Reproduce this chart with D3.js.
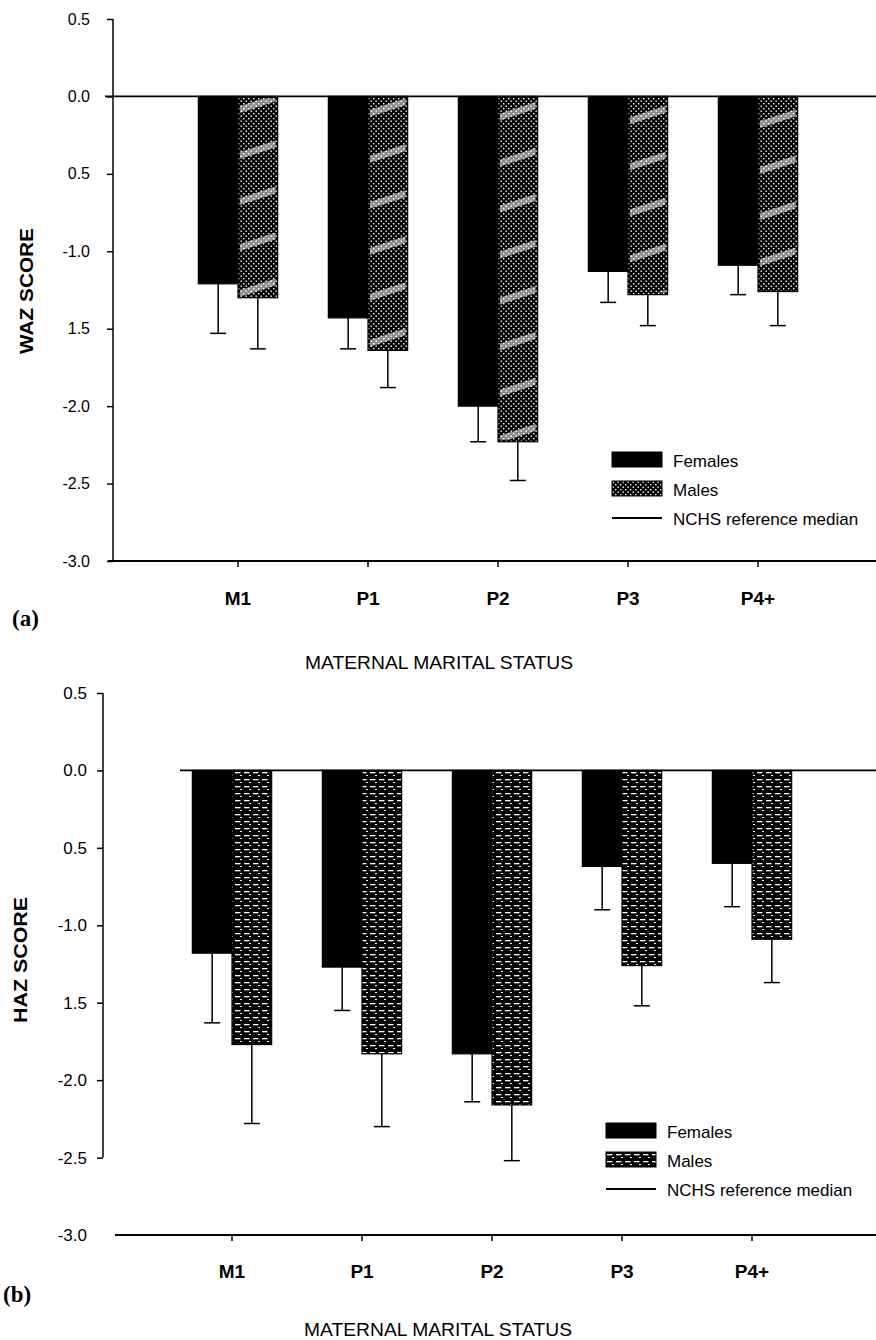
<!DOCTYPE html>
<html>
<head>
<meta charset="utf-8">
<script src="https://cdn.jsdelivr.net/npm/d3@7"></script>
<style>
  body { margin: 0; background: #fff; }
  svg { display: block; }
</style>
</head>
<body>
<script>
// size of the page
var width = 876;
var height = 1340;

// categories and tick labels
const categories = ["M1", "P1", "P2", "P3", "P4+"];
const sexes = ["Females", "Males"];
const legendLabels = ["Females", "Males", "NCHS reference median"];
const yTicks = [0.5, 0, -0.5, -1, -1.5, -2, -2.5, -3];
const yTickLabels = ["0.5", "0.0", "0.5", "-1.0", "1.5", "-2.0", "-2.5", "-3.0"];

// (a) weight-for-age z scores, mean and lower end of the error bar
const wazFemales    = [-1.21, -1.43, -2.00, -1.13, -1.09];
const wazFemalesLow = [-1.53, -1.63, -2.23, -1.33, -1.28];
const wazMales      = [-1.30, -1.64, -2.23, -1.28, -1.26];
const wazMalesLow   = [-1.63, -1.88, -2.48, -1.48, -1.48];

// (b) height-for-age z scores
const hazFemales    = [-1.18, -1.27, -1.83, -0.62, -0.60];
const hazFemalesLow = [-1.63, -1.55, -2.14, -0.90, -0.88];
const hazMales      = [-1.77, -1.83, -2.16, -1.26, -1.09];
const hazMalesLow   = [-2.28, -2.30, -2.52, -1.52, -1.37];

const svg = d3.select("body")
              .append("svg")
              .attr("width", width)
              .attr("height", height);

svg.append("rect")
   .attr("width", width)
   .attr("height", height)
   .attr("fill", "#fff");

// hatch patterns for the male bars
const defs = svg.append("defs");

var pa = defs.append("pattern")
             .attr("id", "stippleA")
             .attr("patternUnits", "userSpaceOnUse")
             .attr("width", 5).attr("height", 5);
pa.append("rect").attr("width", 5).attr("height", 5).attr("fill", "#000");
pa.append("rect").attr("x", 0.5).attr("y", 0.5).attr("width", 1.4).attr("height", 1.4).attr("fill", "#fff");
pa.append("rect").attr("x", 3).attr("y", 3).attr("width", 1.4).attr("height", 1.4).attr("fill", "#fff");

// white diagonal streaks seen across the stippled bars
var pb = defs.append("pattern")
             .attr("id", "bandA")
             .attr("patternUnits", "userSpaceOnUse")
             .attr("width", 80).attr("height", 46)
             .attr("patternTransform", "skewY(-18)");
pb.append("rect").attr("y", 0).attr("width", 80).attr("height", 7).attr("fill", "#fff").attr("opacity", 0.55);

var pc = defs.append("pattern")
             .attr("id", "dashB")
             .attr("patternUnits", "userSpaceOnUse")
             .attr("width", 9).attr("height", 7);
pc.append("rect").attr("width", 9).attr("height", 7).attr("fill", "#000");
pc.append("rect").attr("x", 1).attr("y", 2).attr("width", 5.5).attr("height", 1.3).attr("fill", "#fff");
pc.append("rect").attr("x", 6).attr("y", 5).attr("width", 2).attr("height", 1).attr("fill", "#fff");

const panels = [
  {
    id: "a", title: "WAZ SCORE", tag: "(a)",
    female: wazFemales, femaleLow: wazFemalesLow,
    male: wazMales, maleLow: wazMalesLow,
    fill: "url(#stippleA)", band: "url(#bandA)",
    yRange: [19, 561], xRange: [173, 823],
    axisX: 113, axisEnd: -3, tickPad: 17, tickFont: 16,
    zeroStart: 105, baseStart: 108,
    titleX: 26, titleY: 291, tagX: 12, tagY: 626,
    catPad: 25, xTitleY: 669, xTitleX: 439,
    legendX: 612, legendY: 452
  },
  {
    id: "b", title: "HAZ SCORE", tag: "(b)",
    female: hazFemales, femaleLow: hazFemalesLow,
    male: hazMales, maleLow: hazMalesLow,
    fill: "url(#dashB)", band: null,
    yRange: [693, 1235], xRange: [167, 817],
    axisX: 103, axisEnd: -2.5, tickPad: 10, tickFont: 17,
    zeroStart: 180, baseStart: 115,
    titleX: 20, titleY: 960, tagX: 3, tagY: 1302,
    catPad: 24, xTitleY: 1336, xTitleX: 438,
    legendX: 606, legendY: 1123
  }
];

panels.forEach(drawPanel);

function drawPanel(p)
{
  const g = svg.append("g").attr("class", "panel-" + p.id);

  var y = d3.scaleLinear()
            .domain([0.5, -3])
            .range(p.yRange);

  var x = d3.scaleBand()
            .domain(categories)
            .range(p.xRange)
            .paddingInner(0.39)
            .paddingOuter(0.195);

  var xs = d3.scaleBand()
             .domain(sexes)
             .range([0, x.bandwidth()]);

  // one record per bar
  var bars = [];
  categories.forEach(function(c, i) {
    bars.push({ cat: c, sex: "Females", value: p.female[i], low: p.femaleLow[i] });
    bars.push({ cat: c, sex: "Males", value: p.male[i], low: p.maleLow[i] });
  });

  // NCHS reference median (zero line)
  g.append("line")
   .attr("x1", p.zeroStart).attr("x2", width)
   .attr("y1", y(0)).attr("y2", y(0))
   .attr("stroke", "#000").attr("stroke-width", 1.8);

  // error bars first so the bars sit on top of them
  var err = g.selectAll(".err")
             .data(bars)
             .enter()
             .append("g")
             .attr("class", "err")
             .attr("transform", function(d) { return "translate(" + (x(d.cat) + xs(d.sex) + xs.bandwidth() / 2) + ",0)"; });
  err.append("line")
     .attr("y1", function(d) { return y(d.value); })
     .attr("y2", function(d) { return y(d.low); })
     .attr("stroke", "#000").attr("stroke-width", 1.5);
  err.append("line")
     .attr("x1", -8).attr("x2", 8)
     .attr("y1", function(d) { return y(d.low); })
     .attr("y2", function(d) { return y(d.low); })
     .attr("stroke", "#000").attr("stroke-width", 1.5);

  // bars
  g.selectAll(".bar")
   .data(bars)
   .enter()
   .append("rect")
   .attr("class", "bar")
   .attr("x", function(d) { return x(d.cat) + xs(d.sex); })
   .attr("y", y(0))
   .attr("width", xs.bandwidth())
   .attr("height", function(d) { return y(d.value) - y(0); })
   .attr("fill", function(d) { return d.sex == "Females" ? "#000" : p.fill; })
   .attr("stroke", "#000")
   .attr("stroke-width", 1.2);

  if (p.band)
  {
    g.selectAll(".band")
     .data(bars.filter(function(d) { return d.sex == "Males"; }))
     .enter()
     .append("rect")
     .attr("class", "band")
     .attr("x", function(d) { return x(d.cat) + xs(d.sex) + 2; })
     .attr("y", y(0) + 2)
     .attr("width", xs.bandwidth() - 4)
     .attr("height", function(d) { return y(d.value) - y(0) - 4; })
     .attr("fill", p.band);
  }

  // y axis
  var yAxis = g.append("g")
               .attr("transform", "translate(" + p.axisX + ",0)")
               .call(d3.axisLeft(y)
                       .tickValues(yTicks)
                       .tickFormat(function(d, i) { return yTickLabels[i]; })
                       .tickSize(6)
                       .tickPadding(p.tickPad));
  yAxis.select(".domain").remove();
  yAxis.selectAll(".tick line")
       .attr("stroke-width", 1.5)
       .attr("opacity", function(d) { return d < p.axisEnd ? 0 : 1; });
  yAxis.selectAll(".tick text")
       .style("font-family", "'Liberation Sans', Arial, sans-serif")
       .style("font-size", p.tickFont + "px")
       .attr("fill", "#000");
  yAxis.append("line")
       .attr("y1", y(0.5)).attr("y2", y(p.axisEnd))
       .attr("stroke", "#000").attr("stroke-width", 1.5);

  // x axis along the bottom
  var xAxis = g.append("g")
               .attr("transform", "translate(0," + y(-3) + ")")
               .call(d3.axisBottom(x).tickSize(6).tickSizeOuter(0).tickPadding(p.catPad));
  xAxis.select(".domain").remove();
  xAxis.selectAll(".tick line").attr("stroke-width", 1.5);
  xAxis.selectAll(".tick text")
       .style("font-family", "'Liberation Sans', Arial, sans-serif")
       .style("font-size", "19px")
       .style("font-weight", "bold")
       .attr("fill", "#000");
  xAxis.append("line")
       .attr("x1", p.baseStart).attr("x2", width)
       .attr("stroke", "#000").attr("stroke-width", 1.8);

  // axis titles
  g.append("text")
   .attr("transform", "translate(" + p.titleX + "," + p.titleY + ") rotate(-90)")
   .attr("text-anchor", "middle")
   .attr("dominant-baseline", "central")
   .attr("textLength", 126)
   .attr("lengthAdjust", "spacingAndGlyphs")
   .style("font-family", "'Liberation Sans', Arial, sans-serif")
   .style("font-size", "19px")
   .style("font-weight", "bold")
   .text(p.title);

  g.append("text")
   .attr("x", p.xTitleX).attr("y", p.xTitleY)
   .attr("text-anchor", "middle")
   .attr("textLength", 268)
   .attr("lengthAdjust", "spacingAndGlyphs")
   .style("font-family", "'Liberation Sans', Arial, sans-serif")
   .style("font-size", "18px")
   .text("MATERNAL MARITAL STATUS");

  g.append("text")
   .attr("x", p.tagX).attr("y", p.tagY)
   .style("font-family", "'Liberation Serif', 'DejaVu Serif', serif")
   .style("font-size", "23px")
   .style("font-weight", "bold")
   .text(p.tag);

  // legend
  var leg = g.append("g")
             .attr("transform", "translate(" + p.legendX + "," + p.legendY + ")");
  var item = leg.selectAll(".item")
                .data(legendLabels)
                .enter()
                .append("g")
                .attr("class", "item")
                .attr("transform", function(d, i) { return "translate(0," + i * 29 + ")"; });
  item.filter(function(d, i) { return i < 2; })
      .append("rect")
      .attr("width", 50).attr("height", 15)
      .attr("fill", function(d, i) { return i == 0 ? "#000" : p.fill; })
      .attr("stroke", "#000");
  item.filter(function(d, i) { return i == 2; })
      .append("line")
      .attr("x1", 0).attr("x2", 50)
      .attr("y1", 8).attr("y2", 8)
      .attr("stroke", "#000").attr("stroke-width", 1.8);
  item.append("text")
      .attr("x", 61).attr("y", 15)
      .style("font-family", "'Liberation Sans', Arial, sans-serif")
      .style("font-size", "17px")
      .text(function(d) { return d; });
}
</script>
</body>
</html>
